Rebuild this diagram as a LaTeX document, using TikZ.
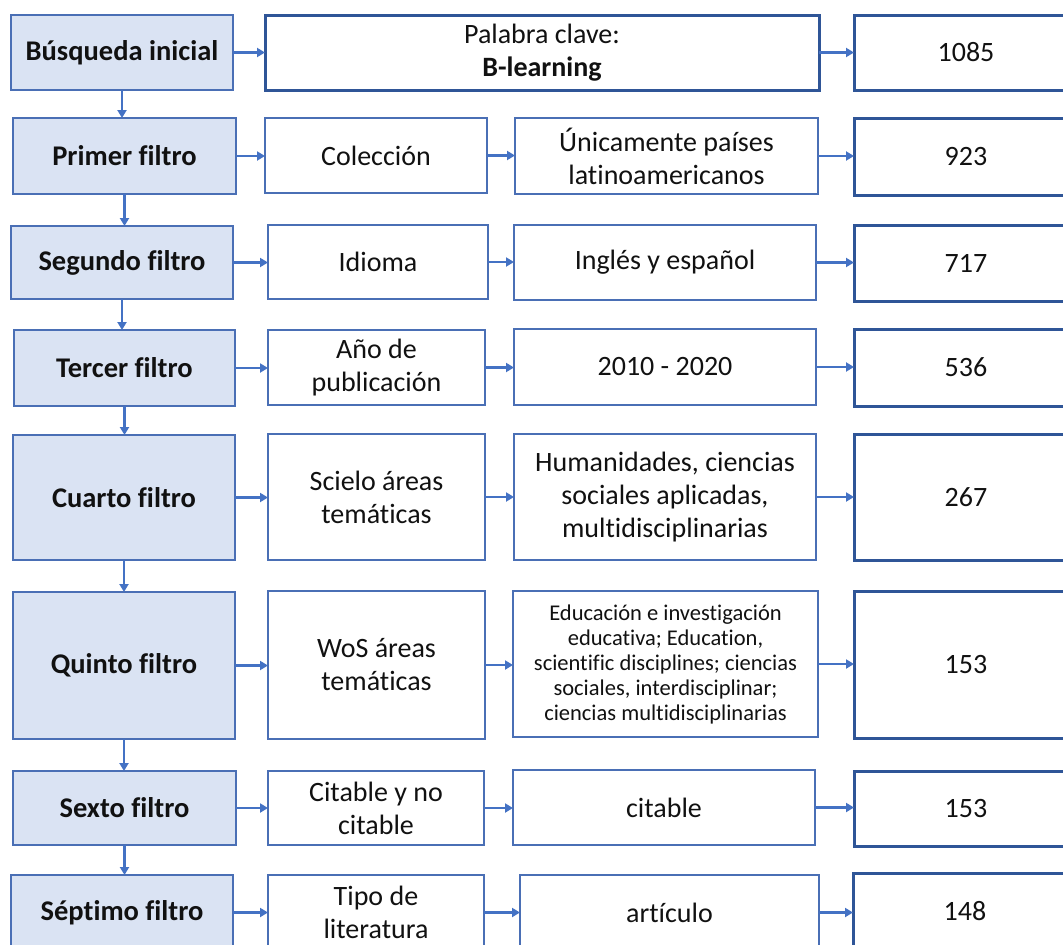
\documentclass[tikz,border=0pt]{standalone}
\usepackage{fontspec}
\setmainfont{Carlito}[Ligatures=NoCommon]
\usetikzlibrary{arrows.meta}
\definecolor{boxfill}{HTML}{DAE3F3}
\definecolor{thinline}{HTML}{4A6FB5}
\definecolor{thickline}{HTML}{2F5597}
\definecolor{arrowc}{HTML}{4472C4}
\definecolor{txt}{HTML}{111111}
\begin{document}
\begin{tikzpicture}[x=1pt,y=-1pt,
  base/.style={rectangle, align=center, inner sep=0pt, outer sep=0pt,
    font=\fontsize{28}{33}\selectfont, text=txt},
  lbox/.style={base, draw=thinline, fill=boxfill, line width=1.5pt,
    font=\fontsize{28.5}{33}\selectfont\bfseries},
  mbox/.style={base, draw=thinline, fill=white, line width=1.8pt},
  rbox/.style={base, draw=thickline, fill=white, line width=3pt},
  flow/.style={draw=arrowc, line width=2.5pt, -{Triangle[length=8pt,width=9pt]}}]
\useasboundingbox (0,0) rectangle (1063,945);
\clip (0,0) rectangle (1063,945);

% left column
\node[lbox, minimum width=222pt, minimum height=75pt]  (L1) at (122,52.5) {Búsqueda inicial};
\node[lbox, minimum width=223pt, minimum height=76pt]  (L2) at (124.5,156) {Primer filtro};
\node[lbox, minimum width=222pt, minimum height=73pt]  (L3) at (122,262.5) {Segundo filtro};
\node[lbox, minimum width=221pt, minimum height=76pt]  (L4) at (124.5,368) {Tercer filtro};
\node[lbox, minimum width=222pt, minimum height=125pt] (L5) at (124,497.5) {Cuarto filtro};
\node[lbox, minimum width=222pt, minimum height=147pt] (L6) at (124,665.5) {Quinto filtro};
\node[lbox, minimum width=223pt, minimum height=74pt]  (L7) at (124.5,808) {Sexto filtro};
\node[lbox, minimum width=222pt, minimum height=75pt]  (L8) at (122,912.5) {Séptimo filtro};

% middle column 1
\node[rbox, minimum width=554pt, minimum height=75pt]  (M1) at (542,52.5) {Palabra clave:\\\textbf{B-learning}};
\node[mbox, minimum width=222pt, minimum height=75pt]  (M2) at (376,155.5) {Colección};
\node[mbox, minimum width=220pt, minimum height=74pt]  (M3) at (378,262) {Idioma};
\node[mbox, minimum width=217pt, minimum height=75pt]  (M4) at (376.5,367.5) {Año de\\publicación};
\node[mbox, minimum width=217pt, minimum height=126pt] (M5) at (376.5,497) {Scielo áreas\\temáticas};
\node[mbox, minimum width=217pt, minimum height=148pt] (M6) at (376.5,665) {WoS áreas\\temáticas};
\node[mbox, minimum width=216pt, minimum height=74pt]  (M7) at (376,808) {Citable y no\\citable};
\node[mbox, minimum width=216pt, minimum height=75pt]  (M8) at (376,912.5) {Tipo de\\literatura};

% middle column 2
\node[mbox, minimum width=303pt, minimum height=76pt]  (N2) at (666.5,156) {Únicamente países\\latinoamericanos};
\node[mbox, minimum width=302pt, minimum height=75pt]  (N3) at (665,262.5) {Inglés y español};
\node[mbox, minimum width=302pt, minimum height=76pt]  (N4) at (665,367) {2010 - 2020};
\node[mbox, minimum width=302pt, minimum height=126pt] (N5) at (665,497) {Humanidades, ciencias\\sociales aplicadas,\\multidisciplinarias};
\node[mbox, minimum width=305pt, minimum height=146pt, font=\fontsize{22.5}{25}\selectfont] (N6) at (665.5,664) {Educación e investigación\\educativa; Education,\\scientific disciplines; ciencias\\sociales, interdisciplinar;\\ciencias multidisciplinarias};
\node[mbox, minimum width=302pt, minimum height=75pt]  (N7) at (664,807.5) {citable};
\node[mbox, minimum width=299pt, minimum height=75pt]  (N8) at (669.5,912.5) {artículo};

% right column
\node[rbox, minimum width=224pt, minimum height=75pt]  (R1) at (966,52.5) {1085};
\node[rbox, minimum width=224pt, minimum height=77pt]  (R2) at (966,156.5) {923};
\node[rbox, minimum width=224pt, minimum height=76pt]  (R3) at (966,263) {717};
\node[rbox, minimum width=224pt, minimum height=77pt]  (R4) at (966,367.5) {536};
\node[rbox, minimum width=224pt, minimum height=126pt] (R5) at (966,497) {267};
\node[rbox, minimum width=224pt, minimum height=147pt] (R6) at (966,664.5) {153};
\node[rbox, minimum width=224pt, minimum height=75pt]  (R7) at (966,808.5) {153};
\node[rbox, minimum width=224pt, minimum height=77pt]  (R8) at (965,911.5) {148};

% down arrows
\foreach \a/\b in {L1/L2,L2/L3,L3/L4,L4/L5,L5/L6,L6/L7,L7/L8}
  \draw[flow] (\a.south) -- (\a.south |- \b.north);

% horizontal arrows
\draw[flow] (L1.east) -- (L1.east -| M1.west);
\draw[flow] (M1.east) -- (M1.east -| R1.west);
\foreach \i in {2,...,8}{
  \draw[flow] (L\i.east) -- (L\i.east -| M\i.west);
  \draw[flow] (M\i.east) -- (M\i.east -| N\i.west);
  \draw[flow] (N\i.east) -- (N\i.east -| R\i.west);
}
\end{tikzpicture}
\end{document}
